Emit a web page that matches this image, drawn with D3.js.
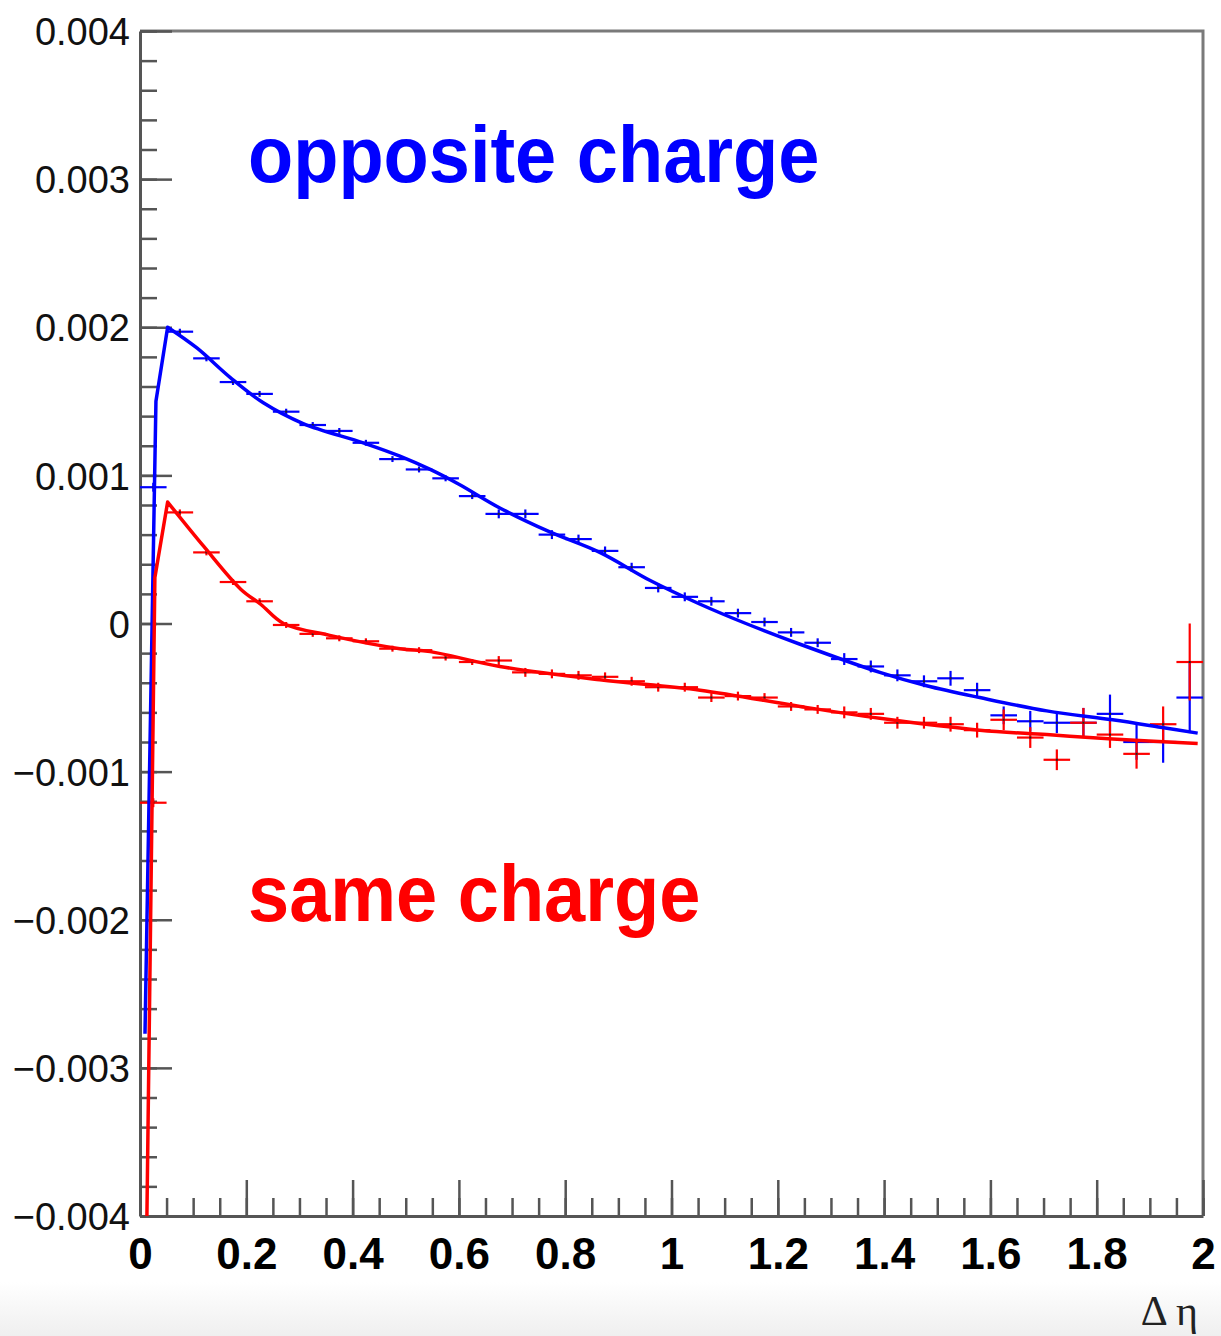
<!DOCTYPE html>
<html>
<head>
<meta charset="utf-8">
<script src="https://cdn.jsdelivr.net/npm/d3@7"></script>
<style>
  html, body { margin: 0; padding: 0; background: #ffffff; }
  svg { display: block; }
</style>
</head>
<body>
<script>
// Δη bin centres (bin width 0.05)
const etaBins = [0.025, 0.075, 0.125, 0.175, 0.225, 0.275, 0.325, 0.375, 0.425, 0.475,
                 0.525, 0.575, 0.625, 0.675, 0.725, 0.775, 0.825, 0.875, 0.925, 0.975,
                 1.025, 1.075, 1.125, 1.175, 1.225, 1.275, 1.325, 1.375, 1.425, 1.475,
                 1.525, 1.575, 1.625, 1.675, 1.725, 1.775, 1.825, 1.875, 1.925, 1.975];
const binWidth = 0.05;

// opposite-charge pairs: measured correlation and its uncertainty
const oppositeValues = [0.00092, 0.00197, 0.00179, 0.00163, 0.00155, 0.00143, 0.00134, 0.00130, 0.00122, 0.00111,
                        0.00104, 0.00098, 0.00086, 0.00074, 0.00074, 0.00060, 0.00057, 0.00049, 0.00038, 0.00024,
                        0.00018, 0.00015, 0.00007, 0.00001, -0.00006, -0.00013, -0.00024, -0.00029, -0.00035, -0.00039,
                        -0.00037, -0.00045, -0.00062, -0.00066, -0.00067, -0.00067, -0.00061, -0.00080, -0.00080, -0.00050];
const oppositeErrors = [0.00003, 0.00002, 0.00002, 0.00002, 0.00002, 0.00002, 0.00002, 0.00002, 0.00002, 0.00002,
                        0.00002, 0.00002, 0.00002, 0.00003, 0.00003, 0.00003, 0.00003, 0.00003, 0.00003, 0.00003,
                        0.00003, 0.00003, 0.00003, 0.00003, 0.00003, 0.00003, 0.00004, 0.00004, 0.00004, 0.00004,
                        0.00005, 0.00005, 0.00006, 0.00007, 0.00007, 0.00010, 0.00013, 0.00012, 0.00014, 0.00024];

// same-charge pairs
const sameValues = [-0.00121, 0.00075, 0.00048, 0.00028, 0.00015, -0.00001, -0.00007, -0.00010, -0.00012, -0.00017,
                    -0.00018, -0.00023, -0.00026, -0.00025, -0.00033, -0.00034, -0.00035, -0.00036, -0.00039, -0.00043,
                    -0.00043, -0.00050, -0.00049, -0.00050, -0.00056, -0.00058, -0.00060, -0.00061, -0.00067, -0.00067,
                    -0.00068, -0.00072, -0.00065, -0.00077, -0.00092, -0.00067, -0.00075, -0.00088, -0.00068, -0.00026];
const sameErrors = [0.00003, 0.00002, 0.00002, 0.00002, 0.00002, 0.00002, 0.00002, 0.00002, 0.00002, 0.00002,
                    0.00002, 0.00002, 0.00002, 0.00003, 0.00003, 0.00003, 0.00003, 0.00003, 0.00003, 0.00003,
                    0.00003, 0.00003, 0.00003, 0.00003, 0.00003, 0.00003, 0.00004, 0.00004, 0.00004, 0.00004,
                    0.00005, 0.00005, 0.00007, 0.00007, 0.00007, 0.00010, 0.00009, 0.00010, 0.00012, 0.00026];

// model curves: steep rise up to the peak, then the smooth tail
const oppositeRiseX = [0.0094, 0.030, 0.052];
const oppositeRiseY = [-0.00277, 0.00150, 0.00200];
const oppositeTailX = [0.052, 0.107, 0.170, 0.232, 0.307, 0.420, 0.489, 0.546, 0.600, 0.677, 0.770,
                       0.865, 0.960, 1.054, 1.140, 1.242, 1.392, 1.480, 1.580, 1.706, 1.830, 1.920, 1.990];
const oppositeTailY = [0.00200, 0.00186, 0.00166, 0.00149, 0.00135, 0.00122, 0.00113, 0.00104, 0.00094, 0.00078, 0.00062,
                       0.00048, 0.00029, 0.00013, 0.00000, -0.00014, -0.00033, -0.00042, -0.00050, -0.00059, -0.00065, -0.00070, -0.00074];
const sameRiseX = [0.013, 0.028, 0.052];
const sameRiseY = [-0.00400, 0.00031, 0.00082];
const sameTailX = [0.052, 0.120, 0.190, 0.227, 0.270, 0.357, 0.489, 0.546, 0.677,
                   0.865, 1.054, 1.242, 1.392, 1.580, 1.706, 1.830, 1.990];
const sameTailY = [0.00082, 0.00052, 0.00023, 0.00013, 0.00000, -0.00008, -0.00017, -0.00019, -0.00029,
                   -0.00038, -0.00045, -0.00056, -0.00064, -0.00072, -0.00075, -0.00078, -0.00081];

// axis ticks and labels
const xTickValues = [0, 0.2, 0.4, 0.6, 0.8, 1, 1.2, 1.4, 1.6, 1.8, 2];
const xTickLabels = ["0", "0.2", "0.4", "0.6", "0.8", "1", "1.2", "1.4", "1.6", "1.8", "2"];
const yTickValues = [-0.004, -0.003, -0.002, -0.001, 0, 0.001, 0.002, 0.003, 0.004];
const yTickLabels = ["\u22120.004", "\u22120.003", "\u22120.002", "\u22120.001", "0", "0.001", "0.002", "0.003", "0.004"];
const xTitle = "\u0394 \u03b7";
const oppositeLabel = "opposite charge";
const sameLabel = "same charge";

const W = 1221, H = 1336;
const frame = { left: 140, right: 1203, top: 31, bottom: 1216 };
const BLUE = "#0000ff", RED = "#ff0000";

const svg = d3.select("body").append("svg").attr("width", W).attr("height", H);

// faint shading along the bottom edge of the canvas
const defs = svg.append("defs");
const grad = defs.append("linearGradient").attr("id", "bottomShade")
  .attr("x1", 0).attr("y1", 0).attr("x2", 0).attr("y2", 1);
grad.append("stop").attr("offset", "0%").attr("stop-color", "#ffffff");
grad.append("stop").attr("offset", "100%").attr("stop-color", "#efefef");
svg.append("rect").attr("x", 0).attr("y", 1282).attr("width", W).attr("height", H - 1282)
  .attr("fill", "url(#bottomShade)");

defs.append("clipPath").attr("id", "plotClip").append("rect")
  .attr("x", frame.left).attr("y", frame.top)
  .attr("width", frame.right - frame.left).attr("height", frame.bottom - frame.top);

const x = d3.scaleLinear().domain([0, 2]).range([frame.left, frame.right]);
const y = d3.scaleLinear().domain([-0.004, 0.004]).range([frame.bottom, frame.top]);

// frame (top and right sides)
svg.append("path")
  .attr("d", `M${frame.left},${frame.top}H${frame.right}V${frame.bottom}`)
  .attr("fill", "none").attr("stroke", "#7a7a7a").attr("stroke-width", 3);

const axisColor = "#555";

// y axis: minor ticks every 0.0002, major every 0.001, ticks pointing inwards
const yMinor = d3.range(-0.004, 0.00401, 0.0002);
svg.append("g").attr("transform", `translate(${frame.left},0)`)
  .call(d3.axisLeft(y).tickValues(yMinor).tickSizeInner(-17).tickSizeOuter(0).tickFormat(""))
  .call(g => g.select(".domain").remove())
  .call(g => g.selectAll("line").attr("stroke", axisColor).attr("stroke-width", 2.5));

svg.append("g").attr("transform", `translate(${frame.left},0)`)
  .call(d3.axisLeft(y).tickValues(yTickValues).tickSizeInner(-32).tickSizeOuter(0).tickPadding(10)
    .tickFormat((d, i) => yTickLabels[i]))
  .call(g => g.select(".domain").attr("stroke", axisColor).attr("stroke-width", 3))
  .call(g => g.selectAll("line").attr("stroke", axisColor).attr("stroke-width", 2.5))
  .call(g => g.selectAll("text")
    .attr("font-family", "'Liberation Sans', Arial, Helvetica, sans-serif")
    .attr("font-size", 38).attr("fill", "#111").attr("dy", "0.36em"));

// x axis: minor ticks every 0.05, major every 0.2
const xMinor = d3.range(0, 2.0001, 0.05);
svg.append("g").attr("transform", `translate(0,${frame.bottom})`)
  .call(d3.axisBottom(x).tickValues(xMinor).tickSizeInner(-18).tickSizeOuter(0).tickFormat(""))
  .call(g => g.select(".domain").remove())
  .call(g => g.selectAll("line").attr("stroke", axisColor).attr("stroke-width", 2.5));

svg.append("g").attr("transform", `translate(0,${frame.bottom})`)
  .call(d3.axisBottom(x).tickValues(xTickValues).tickSizeInner(-36).tickSizeOuter(0).tickPadding(22)
    .tickFormat((d, i) => xTickLabels[i]))
  .call(g => g.select(".domain").attr("stroke", axisColor).attr("stroke-width", 3))
  .call(g => g.selectAll("line").attr("stroke", axisColor).attr("stroke-width", 2.5))
  .call(g => g.selectAll("text")
    .attr("font-family", "'Liberation Sans', Arial, Helvetica, sans-serif")
    .attr("font-weight", "bold").attr("font-size", 44).attr("fill", "#000"));

// axis title
svg.append("text")
  .attr("x", 1198).attr("y", 1325).attr("text-anchor", "end")
  .attr("font-family", "'Liberation Serif', 'Times New Roman', serif")
  .attr("font-size", 42).attr("fill", "#222")
  .text(xTitle);

const plot = svg.append("g").attr("clip-path", "url(#plotClip)");

// histogram points with error bars (horizontal = bin width)
function drawPoints(values, errors, color) {
  const g = plot.append("g");
  etaBins.forEach((c, i) => {
    const v = values[i], e = errors[i];
    g.append("line")
      .attr("x1", x(c - binWidth / 2)).attr("x2", x(c + binWidth / 2))
      .attr("y1", y(v)).attr("y2", y(v))
      .attr("stroke", color).attr("stroke-width", 2.2);
    g.append("line")
      .attr("x1", x(c)).attr("x2", x(c))
      .attr("y1", y(v - e)).attr("y2", y(v + e))
      .attr("stroke", color).attr("stroke-width", 2.2);
    g.append("rect")
      .attr("x", x(c) - 1).attr("y", y(v) - 1).attr("width", 2).attr("height", 2)
      .attr("fill", "#222");
  });
}

drawPoints(oppositeValues, oppositeErrors, BLUE);
drawPoints(sameValues, sameErrors, RED);

const riseLine = d3.line().x(d => x(d[0])).y(d => y(d[1])).curve(d3.curveLinear);
const tailLine = d3.line().x(d => x(d[0])).y(d => y(d[1])).curve(d3.curveCatmullRom.alpha(0.5));

function drawCurve(riseX, riseY, tailX, tailY, color) {
  const rise = riseLine(riseX.map((v, i) => [v, riseY[i]]));
  const tail = tailLine(tailX.map((v, i) => [v, tailY[i]]));
  // join both pieces into one continuous stroke
  plot.append("path")
    .attr("d", rise + "L" + tail.slice(1))
    .attr("fill", "none")
    .attr("stroke", color).attr("stroke-width", 3.5).attr("stroke-linejoin", "round");
}

drawCurve(oppositeRiseX, oppositeRiseY, oppositeTailX, oppositeTailY, BLUE);
drawCurve(sameRiseX, sameRiseY, sameTailX, sameTailY, RED);

// series labels
svg.append("text")
  .attr("transform", "translate(248,182) scale(1,1.08)")
  .attr("font-family", "'Liberation Sans', Arial, Helvetica, sans-serif")
  .attr("font-weight", "bold").attr("font-size", 74).attr("fill", BLUE)
  .text(oppositeLabel);

svg.append("text")
  .attr("transform", "translate(248,921) scale(1,1.08)")
  .attr("font-family", "'Liberation Sans', Arial, Helvetica, sans-serif")
  .attr("font-weight", "bold").attr("font-size", 74).attr("fill", RED)
  .text(sameLabel);
</script>
</body>
</html>
